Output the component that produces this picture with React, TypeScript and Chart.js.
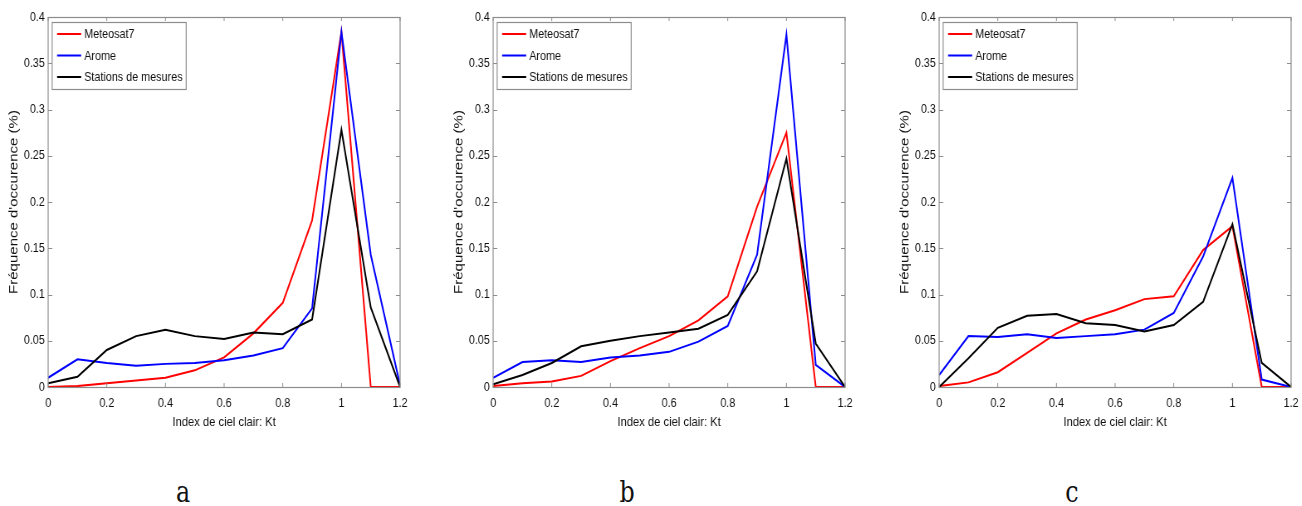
import React, { useEffect, useRef } from "react";
import { Chart, registerables } from "chart.js";

Chart.register(...registerables);

const KT = [0, 0.1, 0.2, 0.3, 0.4, 0.5, 0.6, 0.7, 0.8, 0.9, 1.0, 1.1, 1.2];
const SERIES_NAMES = ["Meteosat7", "Arome", "Stations de mesures"];
const PANEL_LABELS = ["a", "b", "c"];
const X_TITLE = "Index de ciel clair: Kt";
const Y_TITLE = "Fréquence d'occurence (%)";

const A_METEOSAT = [0, 0.001, 0.004, 0.007, 0.01, 0.018, 0.032, 0.058, 0.091, 0.18, 0.384, 0, 0];
const A_AROME = [0.01, 0.03, 0.026, 0.023, 0.025, 0.026, 0.029, 0.034, 0.042, 0.085, 0.384, 0.143, 0.002];
const A_STATIONS = [0.004, 0.011, 0.04, 0.055, 0.062, 0.055, 0.052, 0.059, 0.057, 0.073, 0.278, 0.086, 0];

const B_METEOSAT = [0.001, 0.004, 0.006, 0.012, 0.028, 0.042, 0.055, 0.072, 0.098, 0.195, 0.275, 0, 0];
const B_AROME = [0.01, 0.027, 0.029, 0.027, 0.032, 0.034, 0.038, 0.049, 0.066, 0.143, 0.381, 0.024, 0];
const B_STATIONS = [0.003, 0.013, 0.026, 0.044, 0.05, 0.055, 0.059, 0.063, 0.078, 0.125, 0.247, 0.047, 0];

const C_METEOSAT = [0.001, 0.005, 0.016, 0.037, 0.058, 0.073, 0.083, 0.095, 0.098, 0.148, 0.174, 0, 0];
const C_AROME = [0.013, 0.055, 0.054, 0.057, 0.053, 0.055, 0.057, 0.062, 0.08, 0.141, 0.226, 0.008, 0];
const C_STATIONS = [0, 0.031, 0.064, 0.077, 0.079, 0.069, 0.067, 0.06, 0.067, 0.092, 0.176, 0.026, 0];

const COLORS = ["#ff0000", "#0000ff", "#000000"];
const FRAME = "#8c8c8c";
const SANS = "'Liberation Sans', Arial, sans-serif";
const SQUEEZE = 0.83;
const CW = 494; // internal canvas width (displayed width = CW * SQUEEZE)
const CH = 430;

const PANELS = [
  { left: 0, series: [A_METEOSAT, A_AROME, A_STATIONS] },
  { left: 445, series: [B_METEOSAT, B_AROME, B_STATIONS] },
  { left: 891, series: [C_METEOSAT, C_AROME, C_STATIONS] },
];
const LETTER_X = [183, 627, 1072];

const fmt = (v: number) => String(Math.round(v * 1000) / 1000);

const framePlugin = {
  id: "matlabFrame",
  afterDraw(chart: any) {
    const { ctx, chartArea } = chart;
    const { left, right, top, bottom } = chartArea;
    const xs = chart.scales.x;
    const ys = chart.scales.y;
    ctx.save();
    ctx.strokeStyle = FRAME;
    ctx.lineWidth = 1;
    ctx.beginPath();
    xs.ticks.forEach((t: any) => {
      const px = xs.getPixelForValue(t.value);
      ctx.moveTo(px, bottom);
      ctx.lineTo(px, bottom - 4);
      ctx.moveTo(px, top);
      ctx.lineTo(px, top + 4);
    });
    ys.ticks.forEach((t: any) => {
      const py = Math.round(ys.getPixelForValue(t.value)) + 0.5;
      ctx.moveTo(left, py);
      ctx.lineTo(left + 5, py);
      ctx.moveTo(right, py);
      ctx.lineTo(right - 5, py);
    });
    ctx.stroke();
    ctx.lineWidth = 1.2;
    ctx.strokeRect(left, Math.round(top) + 0.5, right - left, Math.round(bottom - top));

    // legend box
    const bx = left + 4.8;
    const by = Math.round(top) + 5.5;
    ctx.lineWidth = 1.2;
    ctx.fillStyle = "#ffffff";
    ctx.fillRect(bx, by, 161.5, 67);
    ctx.strokeStyle = FRAME;
    ctx.strokeRect(bx, by, 161.5, 67);
    const rows = [17, 38.5, 60];
    ctx.font = `13px ${SANS}`;
    ctx.textBaseline = "middle";
    ctx.textAlign = "left";
    SERIES_NAMES.forEach((name, i) => {
      const y = top + rows[i];
      ctx.strokeStyle = COLORS[i];
      ctx.lineWidth = 2;
      ctx.beginPath();
      ctx.moveTo(left + 10.8, y);
      ctx.lineTo(left + 39.8, y);
      ctx.stroke();
      ctx.fillStyle = "#111";
      ctx.fillText(name, left + 43.4, y + 0.5);
    });
    ctx.restore();
  },
};

function Panel({ series }: { series: number[][] }) {
  const ref = useRef<HTMLCanvasElement>(null);
  useEffect(() => {
    if (!ref.current) return;
    const chart = new Chart(ref.current, {
      type: "line",
      data: {
        datasets: series.map((vals, i) => ({
          label: SERIES_NAMES[i],
          data: KT.map((x, j) => ({ x, y: vals[j] })),
          borderColor: COLORS[i],
          backgroundColor: COLORS[i],
          borderWidth: 2,
          pointRadius: 0,
          tension: 0,
          fill: false,
          order: 3 - i,
        })),
      },
      options: {
        responsive: false,
        animation: false,
        events: [],
        layout: { autoPadding: false, padding: { left: 8, top: 17, right: 12, bottom: 0 } },
        plugins: { legend: { display: false }, tooltip: { enabled: false } },
        scales: {
          x: {
            type: "linear",
            min: 0,
            max: 1.2,
            grid: { display: false, drawTicks: false },
            border: { display: false },
            ticks: {
              stepSize: 0.2,
              padding: 9,
              color: "#111",
              font: { family: SANS, size: 13 },
              maxRotation: 0,
              callback: (v: any) => fmt(Number(v)),
            },
            title: {
              display: true,
              text: X_TITLE,
              color: "#111",
              font: { family: SANS, size: 13.5 },
              padding: 0,
            },
            afterFit: (s: any) => {
              s.height = 43;
              s.paddingLeft = 0;
              s.paddingRight = 0;
            },
          },
          y: {
            min: 0,
            max: 0.4,
            grid: { display: false, drawTicks: false },
            border: { display: false },
            ticks: {
              stepSize: 0.05,
              padding: 4,
              color: "#111",
              font: { family: SANS, size: 13 },
              callback: (v: any) => fmt(Number(v)),
            },
            title: {
              display: true,
              text: Y_TITLE,
              color: "#111",
              font: { family: SANS, size: 15 },
              padding: 0,
            },
            afterFit: (s: any) => {
              s.width = 50;
              s.paddingTop = 0;
              s.paddingBottom = 0;
            },
          },
        },
      },
      plugins: [framePlugin],
    } as any);
    return () => chart.destroy();
  }, [series]);
  return <canvas ref={ref} width={CW} height={CH} style={{ display: "block", width: CW, height: CH }} />;
}

export default function App() {
  return (
    <div style={{ position: "absolute", left: 0, top: 0, width: 1302, height: 506, background: "#fff", overflow: "hidden" }}>
      {PANELS.map((p, i) => (
        <div
          key={i}
          style={{
            position: "absolute",
            left: p.left,
            top: 0,
            width: CW,
            height: CH,
            transform: `scaleX(${SQUEEZE})`,
            transformOrigin: "0 0",
          }}
        >
          <Panel series={p.series} />
        </div>
      ))}
      {PANEL_LABELS.map((l, i) => (
        <div
          key={l}
          style={{
            position: "absolute",
            left: LETTER_X[i] - 20,
            top: 478,
            width: 40,
            textAlign: "center",
            fontFamily: "'DejaVu Serif', serif",
            fontSize: 29,
            lineHeight: "29px",
            color: "#111",
            transform: "scaleX(0.82)",
          }}
        >
          {l}
        </div>
      ))}
    </div>
  );
}
